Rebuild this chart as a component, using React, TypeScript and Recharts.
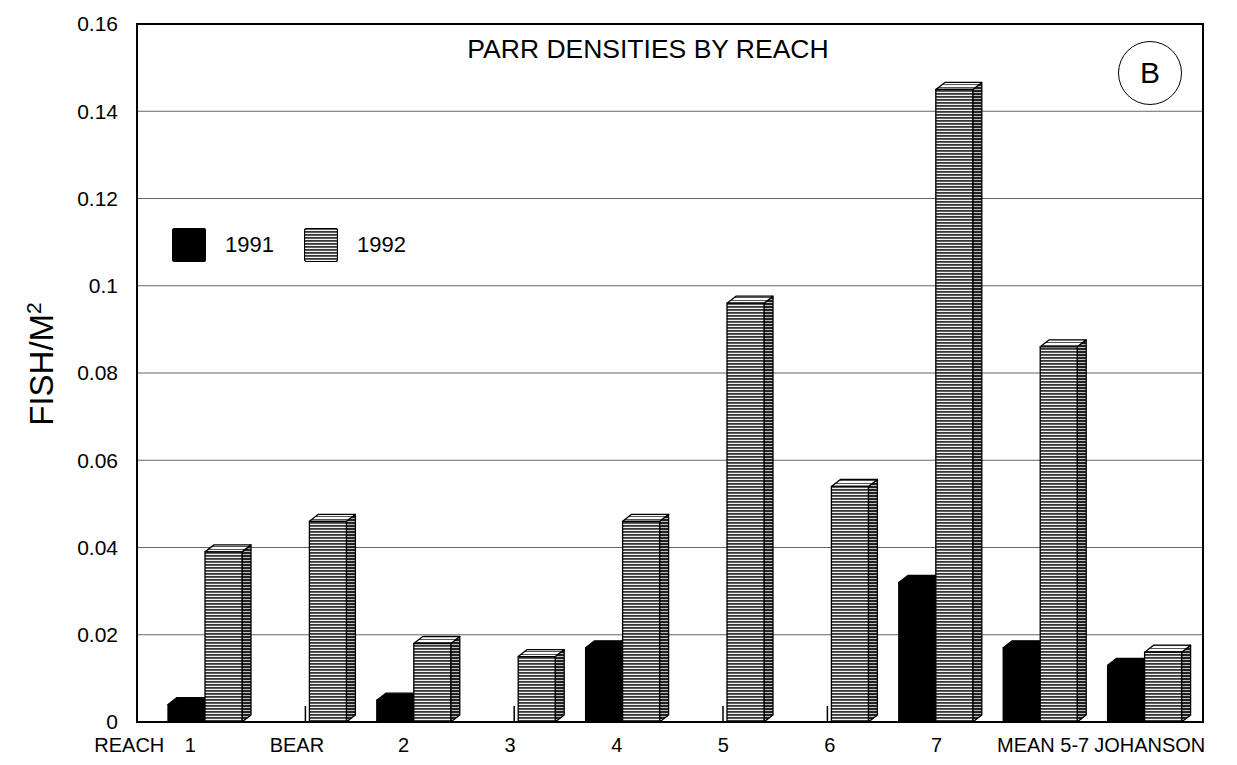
import React from 'react';
import { BarChart, Bar, XAxis, YAxis, CartesianGrid, ReferenceArea, Legend } from 'recharts';

const reaches = ['1', 'BEAR', '2', '3', '4', '5', '6', '7', 'MEAN 5-7', 'JOHANSON'];
const parr1991 = [0.004, 0, 0.005, 0, 0.017, 0, 0, 0.032, 0.017, 0.013];
const parr1992 = [0.039, 0.046, 0.018, 0.015, 0.046, 0.096, 0.054, 0.145, 0.086, 0.016];
const seriesNames = ['1991', '1992'];
const yTicks = [0, 0.02, 0.04, 0.06, 0.08, 0.1, 0.12, 0.14, 0.16];
const minorTicks = [0.01, 0.03, 0.05, 0.07, 0.09, 0.11, 0.13, 0.15];

const data = reaches.map((reach, i) => ({ reach, y1991: parr1991[i], y1992: parr1992[i] }));

const FONT = '"Liberation Sans", Arial, sans-serif';
const DX = 9;
const DY = 7;

function Bar3D(props: any) {
  const { x, y, width, height, front, side, top } = props;
  if (!height || height < 0.5) {
    // zero bars leave a small stub on the floor
    return <line x1={x + width - 4} x2={x + width - 4} y1={y} y2={y - 16} stroke="#000" strokeWidth={1.5} />;
  }
  const b = y + height;
  return (
    <g stroke="#000" strokeWidth={1.3} strokeLinejoin="round">
      <polygon points={`${x + width},${y} ${x + width + DX},${y - DY} ${x + width + DX},${b - DY} ${x + width},${b}`} fill={side} />
      <polygon points={`${x},${y} ${x + DX},${y - DY} ${x + width + DX},${y - DY} ${x + width},${y}`} fill={top} />
      <rect x={x} y={y} width={width} height={height} fill={front} />
    </g>
  );
}

function ReachTick(props: any) {
  const { x, y, payload, index } = props;
  return (
    <g fontFamily={FONT} fontSize={20} fill="#000">
      {index === 0 && (
        <text x={x - 26} y={y} dy="0.71em" textAnchor="end" fill="#000">REACH</text>
      )}
      <text x={x} y={y} dy="0.71em" textAnchor="middle" fill="#000">{payload.value}</text>
    </g>
  );
}

function LegendBox() {
  return (
    <div style={{ display: 'flex', alignItems: 'center', fontFamily: FONT, fontSize: 22 }}>
      {seriesNames.map((name, i) => (
        <div key={name} style={{ display: 'flex', alignItems: 'center', marginRight: 30 }}>
          <svg width={34} height={34}>
            <rect x={0.5} y={0.5} width={33} height={33} rx={2}
              fill={i === 0 ? '#000' : 'url(#stripeFront)'} stroke="#000" strokeWidth={1.2} />
          </svg>
          <span style={{ marginLeft: 19 }}>{name}</span>
        </div>
      ))}
    </div>
  );
}

export default function App() {
  return (
    <div style={{ position: 'fixed', left: 0, top: 0, width: 1237, height: 765, background: '#fff', fontFamily: FONT }}>
      <BarChart width={1237} height={765} data={data} barGap={0}
        margin={{ top: 24, right: 34, left: 0, bottom: 0 }}>
        <defs>
          <pattern id="stripeFront" width={6} height={3} patternUnits="userSpaceOnUse">
            <rect width={6} height={3} fill="#f2f2f2" />
            <rect width={6} height={1.8} fill="#383838" />
          </pattern>
          <pattern id="stripeSide" width={6} height={3} patternUnits="userSpaceOnUse">
            <rect width={6} height={3} fill="#cfcfcf" />
            <rect width={6} height={2.1} fill="#222" />
          </pattern>
          <pattern id="stripeTop" width={6} height={3} patternUnits="userSpaceOnUse">
            <rect width={6} height={3} fill="#fafafa" />
            <rect width={6} height={1} fill="#555" />
          </pattern>
        </defs>
        <CartesianGrid xAxisId="labels" vertical={false} stroke="#666" strokeWidth={1} />
        <XAxis xAxisId="labels" dataKey="reach" height={43} tickLine={false} tickSize={0} tickMargin={16}
          axisLine={{ stroke: '#000', strokeWidth: 2 }} tick={<ReachTick />} interval={0} />
        <XAxis xAxisId="bars" dataKey="reach" hide height={0} padding={{ left: 16, right: 6 }} />
        <YAxis width={137} domain={[0, 0.16]} ticks={yTicks} tickLine={false} tickSize={0} tickMargin={19}
          axisLine={{ stroke: '#000', strokeWidth: 2 }} tickFormatter={(v: number) => String(v)}
          tick={{ fill: '#000', fontSize: 21, fontFamily: FONT }} />
        <YAxis yAxisId="minor" mirror width={0} domain={[0, 0.16]} allowDataOverflow ticks={minorTicks}
          tick={false} axisLine={false} tickSize={10} tickLine={{ stroke: '#000', strokeWidth: 1.2 }} />
        <ReferenceArea xAxisId="labels" y1={0} y2={0.16} fill="none" stroke="#000" strokeWidth={2} />
        <Legend verticalAlign="middle" align="center" layout="horizontal" content={<LegendBox />}
          wrapperStyle={{ left: 172, top: 228, width: 'auto', height: 'auto' }} />
        <Bar xAxisId="bars" dataKey="y1991" name={seriesNames[0]} barSize={37} isAnimationActive={false}
          shape={<Bar3D front="#000" side="#000" top="#000" />} />
        <Bar xAxisId="bars" dataKey="y1992" name={seriesNames[1]} barSize={37} isAnimationActive={false}
          shape={<Bar3D front="url(#stripeFront)" side="url(#stripeSide)" top="url(#stripeTop)" />} />
      </BarChart>

      <div style={{ position: 'absolute', left: 398, width: 500, top: 34, textAlign: 'center', fontSize: 26.5, lineHeight: '30px' }}>
        PARR DENSITIES BY REACH
      </div>
      <div style={{ position: 'absolute', left: 1118, top: 41, width: 64, height: 64, borderRadius: '50%',
        border: '1.5px solid #000', boxSizing: 'border-box', display: 'flex', alignItems: 'center',
        justifyContent: 'center', fontSize: 30 }}>
        B
      </div>
      <div style={{ position: 'absolute', left: 34 - 100, top: 364 - 22, width: 200, height: 44,
        transform: 'rotate(-90deg)', textAlign: 'center', fontSize: 33, lineHeight: '44px', whiteSpace: 'nowrap' }}>
        FISH/M<sup style={{ fontSize: 21 }}>2</sup>
      </div>
    </div>
  );
}
